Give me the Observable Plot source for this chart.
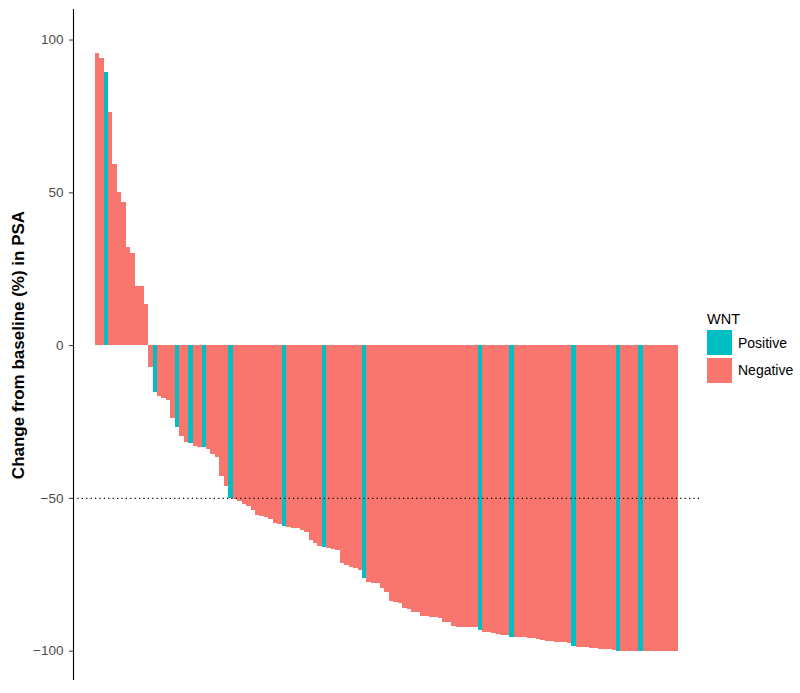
<!DOCTYPE html>
<html>
<head>
<meta charset="utf-8">
<script src="https://cdn.jsdelivr.net/npm/d3@7"></script>
<script src="https://cdn.jsdelivr.net/npm/@observablehq/plot@0.6"></script>
<style>
  html, body { margin: 0; padding: 0; background: #fff; }
  #wrap { position: relative; width: 800px; height: 693px; font-family: "Liberation Sans", Arial, sans-serif; }
  #legend { position: absolute; left: 707px; top: 309px; font-family: "Liberation Sans", Arial, sans-serif; }
  #legend .title { font-size: 14.5px; color: #000; height: 20px; line-height: 20px; }
  #legend .row { display: flex; align-items: center; height: 27.5px; }
  #legend .sw { width: 25px; height: 25px; margin-right: 6px; }
  #legend .lab { font-size: 14px; color: #000; }
</style>
</head>
<body>
<div id="wrap">
  <div id="chart"></div>
  <div id="legend"></div>
</div>
<script>
// Percent change from baseline in PSA, sorted (waterfall), one value per patient
const changes = [
  95.5, 94.0, 89.5, 76.4, 59.3, 50.0, 46.7, 32.2, 30.3, 19.4, 19.4, 13.3,
  -7.0, -15.2, -16.8, -17.3, -17.9, -24.0, -26.8, -29.8, -31.7, -32.0, -32.9, -33.4,
  -33.5, -34.0, -35.6, -36.7, -42.8, -46.1, -50.0, -50.4, -51.0, -51.9, -52.7, -53.8,
  -55.7, -55.8, -56.1, -56.8, -58.2, -58.5, -59.3, -59.6, -59.8, -60.0, -60.5, -61.0,
  -63.7, -64.8, -65.6, -66.1, -66.5, -66.7, -67.2, -71.4, -71.9, -72.5, -73.0, -73.6,
  -76.3, -77.4, -77.9, -78.0, -79.6, -80.7, -83.9, -84.0, -84.5, -86.1, -86.2, -87.2,
  -87.3, -88.6, -88.6, -88.9, -89.0, -89.2, -90.5, -90.7, -91.8, -92.1, -92.2, -92.2,
  -92.3, -92.4, -93.2, -93.8, -94.0, -94.3, -94.6, -94.8, -95.0, -95.4, -95.5, -95.5,
  -95.6, -95.7, -95.9, -96.2, -96.5, -96.7, -96.9, -97.0, -97.2, -97.3, -97.5, -98.4,
  -98.7, -98.8, -98.9, -99.0, -99.2, -99.4, -99.5, -99.6, -99.7, -100, -100, -100,
  -100, -100, -100, -100, -100, -100, -100, -100, -100, -100, -100
];
// Indices (0-based, in sorted order) of WNT-positive patients
const positiveIdx = [2, 13, 18, 21, 24, 30, 42, 51, 60, 86, 93, 107, 117, 122];
const groups = ["Positive", "Negative"];
const groupColors = ["#00BFC4", "#F8766D"];
const yTicks = [-100, -50, 0, 50, 100];
const threshold = [-50];
const yTitle = "Change from baseline (%) in PSA";

const posSet = new Set(positiveIdx);
const data = changes.map((v, i) => ({i, v, wnt: posSet.has(i) ? "Positive" : "Negative"}));

const n = changes.length;
const xPad = 4.85;
const xDomain = [-xPad, n + xPad];

const chart = Plot.plot({
  width: 800,
  height: 693,
  marginLeft: 73,
  marginRight: 100,
  marginTop: 9,
  marginBottom: 13,
  style: {fontFamily: "Liberation Sans, Arial, sans-serif", background: "#fff"},
  x: {domain: xDomain, axis: null},
  y: {domain: [-109.6, 110]},
  color: {domain: groups, range: groupColors},
  marks: [
    Plot.rectY(data, {x1: "i", x2: d => d.i + 1, y1: 0, y2: "v", fill: "wnt", inset: 0, shapeRendering: "crispEdges"}),
    Plot.ruleY(threshold, {stroke: "#000", strokeWidth: 1.2, strokeDasharray: "1.2,3.2"}),
    Plot.ruleX([xDomain[0]], {stroke: "#000", strokeWidth: 1.1}),
    Plot.axisY({ticks: yTicks, tickSize: 4, tickPadding: 6, fontSize: 13.5, label: null, stroke: "#333", fill: "#4d4d4d"}),
    Plot.text([yTitle], {frameAnchor: "left", textAnchor: "middle", dx: -55, rotate: -90, fontSize: 17, fontWeight: "bold", fill: "#000"})
  ]
});
document.getElementById("chart").appendChild(chart);

const legend = document.getElementById("legend");
const t = document.createElement("div");
t.className = "title";
t.textContent = "WNT";
legend.appendChild(t);
groups.forEach((g, k) => {
  const row = document.createElement("div");
  row.className = "row";
  const sw = document.createElement("div");
  sw.className = "sw";
  sw.style.background = groupColors[k];
  const lab = document.createElement("span");
  lab.className = "lab";
  lab.textContent = g;
  row.appendChild(sw);
  row.appendChild(lab);
  legend.appendChild(row);
});
</script>
</body>
</html>
